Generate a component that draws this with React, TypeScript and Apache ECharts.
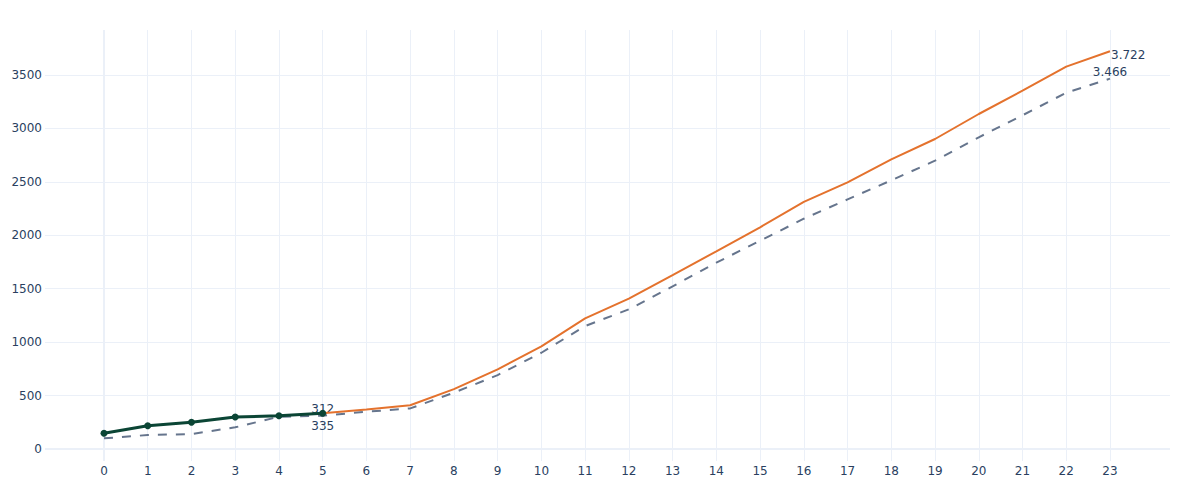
import React, { useEffect, useRef } from "react";
import * as echarts from "echarts";

// Hours of the day (x axis categories)
const hours = [0, 1, 2, 3, 4, 5, 6, 7, 8, 9, 10, 11, 12, 13, 14, 15, 16, 17, 18, 19, 20, 21, 22, 23];
// Actual cumulative values, hours 0..5
const actualHours = [0, 1, 2, 3, 4, 5];
const actualValues = [147, 218, 250, 299, 312, 335];
// Forecast, hours 5..23
const forecastHours = [5, 6, 7, 8, 9, 10, 11, 12, 13, 14, 15, 16, 17, 18, 19, 20, 21, 22, 23];
const forecastValues = [335, 371, 410, 560, 746, 961, 1223, 1407, 1628, 1850, 2075, 2312, 2496, 2710, 2901, 3135, 3353, 3578, 3722];
// Reference (dashed), hours 0..23
const referenceValues = [100, 131, 140, 203, 302, 312, 349, 380, 527, 692, 901, 1151, 1307, 1522, 1744, 1949, 2155, 2336, 2514, 2698, 2917, 3123, 3334, 3466];
// Y tick values
const yTicks = [0, 500, 1000, 1500, 2000, 2500, 3000, 3500];

const FONT = "DejaVu Sans";
const TEXT = "#2a3f5f";
const GRID = "#EBF0F8";

function fmt(v: number): string {
  const s = String(Math.round(v));
  return s.replace(/\B(?=(\d{3})+(?!\d))/g, ".");
}

export default function App() {
  const ref = useRef<HTMLDivElement>(null);
  useEffect(() => {
    if (!ref.current) return;
    const chart = echarts.init(ref.current, undefined, { renderer: "svg" });
    const labelStyle = { fontFamily: FONT, fontSize: 12, color: TEXT };

    const gridLines = [
      ...hours.map((h) => ({ xAxis: h, lineStyle: { width: h === 0 ? 2 : 1 } })),
      ...yTicks.map((y) => ({ yAxis: y, lineStyle: { width: y === 0 ? 2 : 1 } })),
    ];

    const lastIdx = referenceValues.length - 1;
    const refData = referenceValues.map((v, i) => {
      const item: any = { value: [hours[i], v] };
      if (i === 5 || i === lastIdx) {
        item.label = { show: true, position: "top", distance: 1, formatter: fmt(v), ...labelStyle };
      }
      return item;
    });
    const fcLast = forecastValues.length - 1;
    const fcData = forecastValues.map((v, i) => {
      const item: any = { value: [forecastHours[i], v] };
      if (i === fcLast) {
        item.label = { show: true, position: "right", distance: 1, offset: [0, 4], formatter: fmt(v), ...labelStyle };
      }
      return item;
    });
    const acLast = actualValues.length - 1;
    const acData = actualValues.map((v, i) => {
      const item: any = { value: [actualHours[i], v] };
      if (i === acLast) {
        item.label = { show: true, position: "bottom", distance: 3, formatter: fmt(v), ...labelStyle };
      }
      return item;
    });

    chart.setOption({
      animation: false,
      backgroundColor: "#ffffff",
      grid: { left: 45, right: 30, top: 30, bottom: 39, containLabel: false },
      xAxis: {
        type: "value",
        min: -1.349,
        max: 24.372,
        minInterval: 1,
        maxInterval: 1,
        splitLine: { show: false },
        axisLine: { show: false },
        axisTick: { show: false },
        axisLabel: {
          ...labelStyle,
          margin: 4,
          showMinLabel: false,
          showMaxLabel: false,
          formatter: (v: number) => (Number.isInteger(v) && v >= 0 && v <= 23 ? String(v) : ""),
        },
      },
      yAxis: {
        type: "value",
        min: -112,
        max: 3921,
        minInterval: 500,
        maxInterval: 500,
        splitLine: { show: false },
        axisLine: { show: false },
        axisTick: { show: false },
        axisLabel: {
          ...labelStyle,
          margin: 3,
          showMinLabel: false,
          showMaxLabel: false,
          formatter: (v: number) => (v >= 0 && v % 500 === 0 ? String(v) : ""),
        },
      },
      series: [
        {
          type: "line",
          name: "grid",
          data: [],
          z: 0,
          silent: true,
          markLine: {
            silent: true,
            z: 0,
            symbol: ["none", "none"],
            label: { show: false },
            lineStyle: { color: GRID, width: 1, type: "solid" },
            emphasis: { disabled: true },
            data: gridLines,
          },
        },
        {
          type: "line",
          name: "reference",
          data: refData,
          z: 10,
          symbol: "circle",
          symbolSize: 0,
          showSymbol: true,
          lineStyle: { color: "#66758d", width: 2, type: [9, 9] },
          itemStyle: { color: "rgba(0,0,0,0)" },
        },
        {
          type: "line",
          name: "forecast",
          data: fcData,
          z: 11,
          symbol: "circle",
          symbolSize: 0,
          showSymbol: true,
          lineStyle: { color: "#e4722d", width: 2 },
          itemStyle: { color: "rgba(0,0,0,0)" },
        },
        {
          type: "line",
          name: "actual",
          data: acData,
          z: 12,
          symbol: "circle",
          symbolSize: 7,
          lineStyle: { color: "#0b4535", width: 3 },
          itemStyle: { color: "#0b4535" },
        },
      ],
    });
    return () => chart.dispose();
  }, []);
  return (
    <div
      ref={ref}
      style={{ position: "absolute", left: 0, top: 0, width: 1200, height: 500, background: "#fff" }}
    />
  );
}
